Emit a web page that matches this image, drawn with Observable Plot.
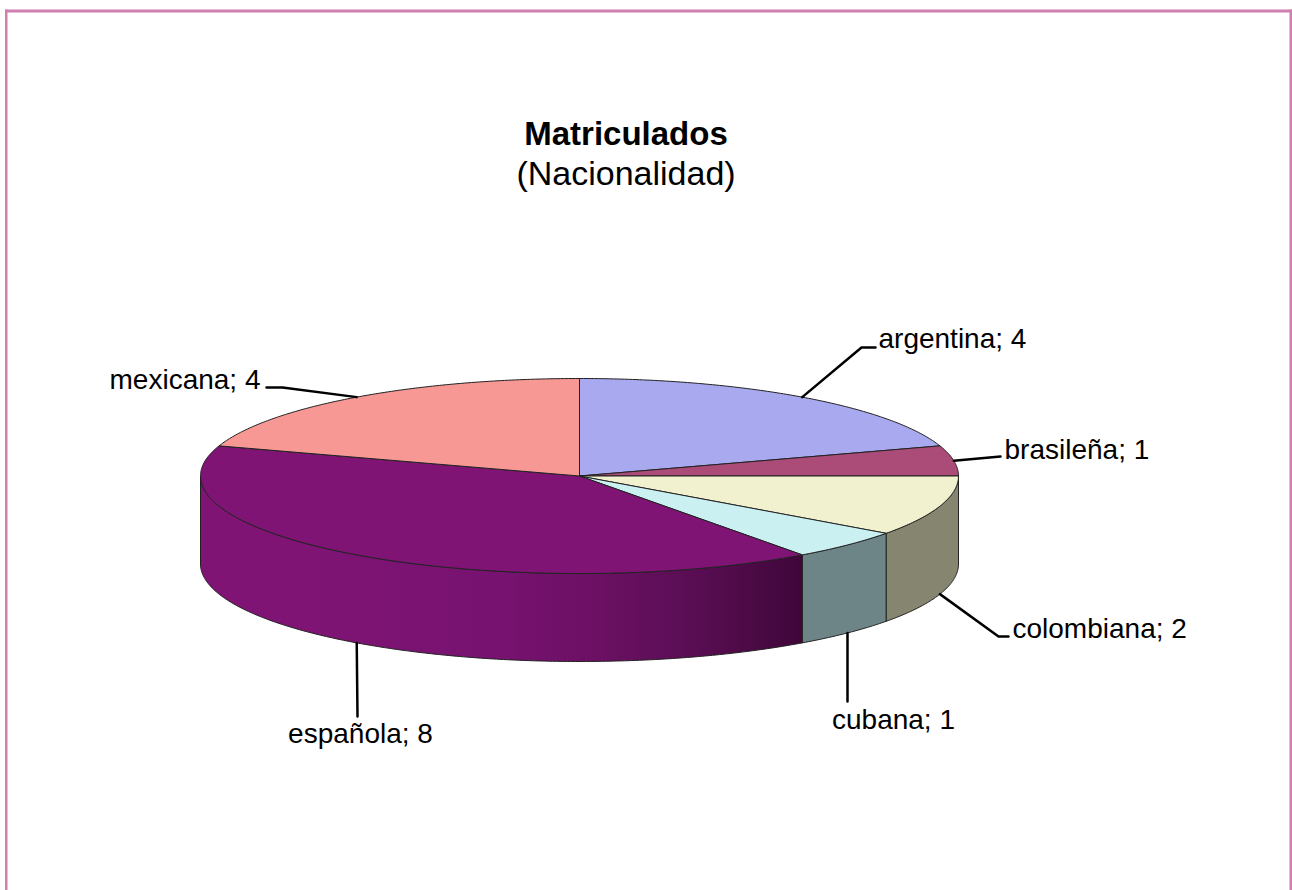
<!DOCTYPE html>
<html>
<head>
<meta charset="utf-8">
<style>html,body{margin:0;padding:0;background:#fff}svg{display:block}</style>
<script src="https://cdn.jsdelivr.net/npm/d3@7"></script>
<script src="https://cdn.jsdelivr.net/npm/@observablehq/plot@0.6"></script>
</head>
<body>
<script>
const categories = ["argentina", "brasileña", "colombiana", "cubana", "española", "mexicana"];
const values = [4, 1, 2, 1, 8, 4];
const topColors = ["#a9a9ef", "#ab4c78", "#f1f1cf", "#cbf0f2", "#7f1475", "#f79894"];
const sideColors = [null, null, "#86856f", "#6e8587", "url(#sideGrad)", null];
const titleText = "Matriculados";
const subtitleText = "(Nacionalidad)";

// layout
const W = 1292, H = 890;
const cx = 579, cy = 475.5, rx = 379, ry = 97.5, depth = 88;
const elbows = [[[861, 347], [875, 347]], [[1000, 456]], [[998, 636], [1008, 636]], [[847, 701]], [[357, 716]], [[282, 387], [266, 387]]];
const labelPos = [[878, 339, "start"], [1004, 450, "start"], [1012, 629, "start"], [893, 720, "middle"], [360, 734, "middle"], [260, 380, "end"]];

const total = d3.sum(values);
let acc = 0;
const slices = categories.map((name, i) => {
  const a0 = acc / total * 2 * Math.PI;
  acc += values[i];
  return {name, value: values[i], i, a0, a1: acc / total * 2 * Math.PI};
});
const px = a => cx + rx * Math.sin(a);
const py = a => cy - ry * Math.cos(a);
const arc = (a0, a1) => {
  const n = Math.max(2, Math.ceil((a1 - a0) / 0.01));
  return d3.range(n + 1).map(k => a0 + (a1 - a0) * k / n);
};
const topPoly = s => [
  {x: cx, y: cy},
  ...arc(s.a0, s.a1).map(a => ({x: px(a), y: py(a)})),
  {x: cx, y: cy}
];
const sidePoly = s => {
  const a0 = Math.max(s.a0, 0), a1 = Math.min(s.a1, 1.5 * Math.PI);
  const as = arc(a0, a1);
  const pts = [
    ...as.map(a => ({x: px(a), y: py(a)})),
    ...as.slice().reverse().map(a => ({x: px(a), y: py(a) + depth}))
  ];
  pts.push(pts[0]);
  return pts;
};
const leaders = slices.map((s, i) => {
  const m = (s.a0 + s.a1) / 2;
  const front = m > Math.PI / 2 && m < 1.5 * Math.PI;
  return [{x: px(m), y: py(m) + (front ? depth : 0)}, ...elbows[i].map(([x, y]) => ({x, y}))];
});
const outline = "#222";

const gradient = () => {
  const ns = "http://www.w3.org/2000/svg";
  const defs = document.createElementNS(ns, "defs");
  const g = document.createElementNS(ns, "linearGradient");
  g.setAttribute("id", "sideGrad");
  g.setAttribute("gradientUnits", "userSpaceOnUse");
  g.setAttribute("x1", 200); g.setAttribute("x2", 802);
  g.setAttribute("y1", 0); g.setAttribute("y2", 0);
  [[0, "#7f1475"], [0.17, "#7f1475"], [0.5, "#771270"], [0.664, "#6b1063"], [0.83, "#580d52"], [1, "#3f0639"]].forEach(([o, c]) => {
    const st = document.createElementNS(ns, "stop");
    st.setAttribute("offset", o); st.setAttribute("stop-color", c);
    g.appendChild(st);
  });
  defs.appendChild(g);
  return defs;
};

const labelMark = anchor => Plot.text(slices.filter(s => labelPos[s.i][2] === anchor), {
  x: d => labelPos[d.i][0], y: d => labelPos[d.i][1],
  text: d => `${d.name}; ${d.value}`,
  textAnchor: anchor,
  fontSize: 28, fill: "#000", lineAnchor: "middle", fontFamily: "Liberation Sans"
});

const marks = [
  gradient,
  Plot.rect([{x1: 5, x2: 7.5, y1: 9.5, y2: H}, {x1: 5, x2: W, y1: 9.5, y2: 12.5}, {x1: 1289.5, x2: W, y1: 9.5, y2: H}],
    {x1: "x1", x2: "x2", y1: "y1", y2: "y2", fill: "#cf7fb0"}),
  ...slices.filter(s => sideColors[s.i]).map(s =>
    Plot.line(sidePoly(s), {x: "x", y: "y", fill: sideColors[s.i], stroke: outline, strokeWidth: 1, curve: "linear"})),
  ...slices.map(s =>
    Plot.line(topPoly(s), {x: "x", y: "y", fill: topColors[s.i], stroke: outline, strokeWidth: 1, curve: "linear"})),
  ...leaders.map(l => Plot.line(l, {x: "x", y: "y", stroke: "#000", strokeWidth: 2.5, curve: "linear"})),
  labelMark("start"), labelMark("middle"), labelMark("end"),
  Plot.text([titleText], {x: () => 625.5, y: () => 134, text: d => d, fontSize: 33, fontWeight: "bold", fill: "#000", lineAnchor: "middle", fontFamily: "Liberation Sans"}),
  Plot.text([subtitleText], {x: () => 625.5, y: () => 174, text: d => d, fontSize: 34, fill: "#000", lineAnchor: "middle", fontFamily: "Liberation Sans"})
];

document.body.appendChild(Plot.plot({
  width: W, height: H,
  margin: 0,
  x: {domain: [0, W], range: [0, W], axis: null},
  y: {domain: [0, H], range: [0, H], axis: null},
  style: {background: "#fff"},
  marks
}));
</script>
</body>
</html>
